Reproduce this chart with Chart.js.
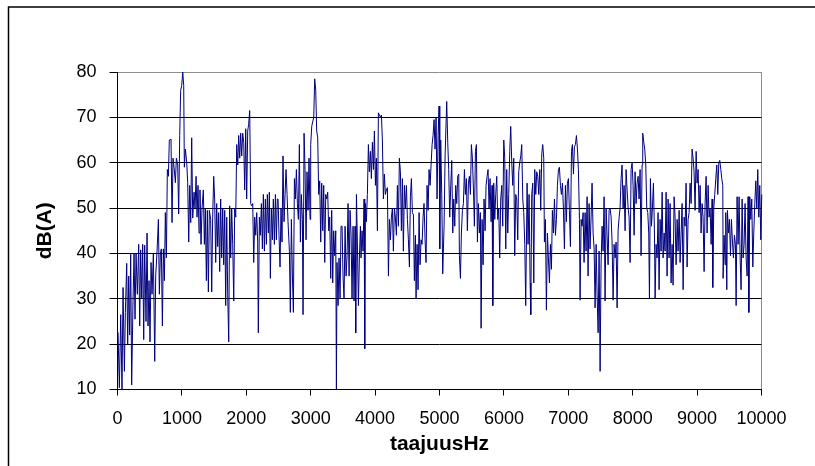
<!DOCTYPE html>
<html>
<head>
<meta charset="utf-8">
<title>taajuusHz</title>
<script src="https://cdn.jsdelivr.net/npm/chart.js@4.4.1/dist/chart.umd.min.js"></script>
<style>
    html,
    body {
        margin: 0;
        padding: 0;
        background: #ffffff;
    }

    #spectrumChart {
        display: block;
    }
</style>
</head>
<body>
<canvas id="spectrumChart" width="815" height="466"></canvas>
<script>
"use strict";

// frequency of each reading, Hz
const frequencyHz = [
    8, 29, 50, 70, 86, 107, 122, 143, 158, 174, 189, 205, 220, 241, 257, 272, 288, 308, 329, 345,
    360, 376, 391, 407, 422, 443, 459, 474, 490, 505, 521, 536, 557, 578, 593, 614, 635, 650, 666, 681,
    697, 712, 728, 743, 759, 774, 790, 805, 831, 847, 862, 878, 899, 914, 935, 950, 966, 981, 997, 1013,
    1028, 1038, 1054, 1075, 1090, 1106, 1121, 1137, 1152, 1168, 1189,
    1204, 1220, 1235, 1250, 1266, 1281, 1297, 1313, 1333, 1349, 1364, 1380, 1395, 1411, 1426, 1447, 1463, 1478, 1494, 1509,
    1525, 1540, 1556, 1571, 1587, 1602, 1618, 1634, 1649, 1665, 1680, 1696, 1711, 1727, 1742, 1758, 1773, 1789, 1805, 1820,
    1836, 1851, 1867, 1882, 1898, 1913, 1929, 1944, 1960, 1975, 1991, 2006, 2022, 2037, 2053, 2068, 2084, 2100, 2115, 2131,
    2146, 2162, 2177, 2187, 2203, 2218, 2234, 2250, 2265, 2281, 2296, 2312, 2327, 2343, 2358, 2374, 2389, 2405, 2420, 2436,
    2452, 2467, 2482,
    2493, 2508, 2524, 2539, 2555, 2570, 2586, 2602, 2617, 2633, 2648, 2669, 2684, 2700, 2716, 2731, 2747, 2762, 2778, 2793,
    2809, 2824, 2840, 2855, 2871, 2881, 2897, 2912, 2928, 2943, 2959, 2974, 2990, 3000, 3016, 3031, 3047, 3062, 3078, 3093,
    3109, 3124, 3140, 3156, 3171, 3187, 3202, 3218, 3233, 3249, 3264, 3280, 3295, 3311, 3326, 3342, 3357, 3373, 3389, 3399,
    3409, 3425, 3440, 3456, 3471, 3487, 3502, 3518, 3534, 3549, 3565, 3580, 3596, 3611, 3627, 3642, 3658, 3673, 3689, 3699,
    3710, 3725, 3741, 3756, 3772,
    3782, 3797, 3813, 3829, 3839, 3849, 3865, 3880, 3896, 3911, 3927, 3942, 3958, 3974, 3989, 4005, 4020, 4036, 4051, 4067,
    4082, 4098, 4113, 4129, 4144, 4160, 4175, 4191, 4207, 4222, 4238, 4253, 4269, 4284, 4300, 4315, 4331, 4346, 4362, 4377,
    4393, 4408, 4424, 4439, 4455, 4471, 4486, 4502, 4517, 4533, 4548, 4564, 4579, 4595, 4610, 4626, 4636, 4652, 4667, 4683,
    4698, 4714, 4729, 4745, 4760, 4776, 4791, 4807, 4823, 4838, 4854, 4869, 4885, 4900, 4916, 4931, 4947, 4962, 4978, 4993,
    5004, 5019, 5035, 5050,
    5071, 5087, 5112, 5128, 5143, 5159, 5175, 5190, 5206, 5221, 5237, 5252, 5268, 5283, 5299, 5309, 5325, 5340, 5356, 5371,
    5387, 5402, 5418, 5433, 5449, 5464, 5480, 5495, 5511, 5527, 5542, 5558, 5573, 5589, 5604, 5620, 5635, 5646, 5661, 5677,
    5692, 5708, 5723, 5739, 5754, 5770, 5785, 5801, 5816, 5827, 5842, 5858, 5873, 5889, 5904, 5920, 5935, 5951, 5967, 5982,
    5998, 6013, 6029, 6044, 6060, 6075, 6091, 6106, 6122, 6137, 6153, 6168, 6184, 6199, 6215, 6230, 6246, 6262, 6277, 6293,
    6308, 6324, 6339,
    6360, 6375, 6391, 6407, 6417, 6432, 6448, 6464, 6479, 6495, 6510, 6526, 6541, 6557, 6572, 6588, 6603, 6619, 6629, 6645,
    6660, 6676, 6691, 6707, 6722, 6738, 6753, 6769, 6785, 6800, 6816, 6831, 6847, 6862, 6878, 6893, 6909, 6924, 6940, 6955,
    6971, 6986, 7002, 7017, 7033, 7049, 7064, 7080, 7095, 7111, 7126, 7142, 7157, 7173, 7183, 7199, 7214, 7230, 7245, 7261,
    7276, 7292, 7307, 7323, 7338, 7354, 7369, 7385, 7401, 7416, 7432, 7447, 7463, 7478, 7494, 7509, 7525, 7540, 7556, 7571,
    7587, 7602, 7618, 7633,
    7649, 7665, 7680, 7696, 7711, 7727, 7742, 7758, 7773, 7789, 7804, 7820, 7835, 7851, 7866, 7882, 7897, 7913, 7929, 7944,
    7960, 7975, 7991, 8006, 8022, 8037, 8053, 8068, 8084, 8099, 8115, 8130, 8146, 8156, 8172, 8187, 8203, 8218, 8234, 8249,
    8260, 8275, 8291, 8306, 8322, 8338, 8348, 8363, 8379, 8394, 8410, 8425, 8441, 8457, 8472, 8488, 8503, 8519, 8534, 8550,
    8565, 8581, 8596, 8612, 8627, 8643, 8658, 8674, 8690, 8705, 8721, 8736, 8752, 8767, 8783, 8798, 8814, 8829, 8845, 8860,
    8876, 8891, 8907, 8922,
    8938, 8953, 8969, 8985, 9000, 9016, 9031, 9047, 9062, 9078, 9093, 9109, 9124, 9140, 9155, 9171, 9186, 9202, 9218, 9233,
    9243, 9259, 9274, 9290, 9306, 9321, 9337, 9352, 9368, 9383, 9399, 9404, 9419, 9435, 9445, 9461, 9471, 9487, 9502, 9518,
    9533, 9549, 9564, 9580, 9595, 9606, 9621, 9637, 9652, 9668, 9683, 9699, 9714, 9730, 9745, 9761, 9777, 9792, 9803, 9818,
    9834, 9849, 9865, 9880, 9896, 9911, 9927, 9942, 9958, 9973, 9989, 10004, 10020, 10035, 10046
];

// A-weighted level of each reading, dB(A)
const levelDb = [
    22.6, 10.4, 26.5, 10, 32.5, 14, 27, 37.8, 20, 35, 22, 39.8, 11, 29.7, 40, 25.5, 40, 31, 42, 24,
    40.8, 30, 42, 21, 41.8, 25, 44.5, 24, 34, 20.5, 38, 31, 40, 16.2, 35, 40.5, 47.5, 31, 40, 41,
    24, 41, 34, 49, 39, 58.5, 57, 65, 65.2, 46.8, 61, 59, 55.6, 61, 59.5, 48.7, 66, 76, 77, 80,
    77, 59, 63, 60, 55.6, 42.5, 55, 46.8, 65.5, 47.8, 53.5,
    50, 57, 48, 55, 44.5, 54, 42, 50, 54, 42, 50, 34, 49.5, 31.5, 49.5, 47.5, 31.5, 48, 57, 52,
    38, 51, 41.5, 49, 36, 52, 39, 50, 37.5, 49.5, 28.5, 48, 31, 20.5, 50.5, 39, 50, 42, 29.5, 50,
    48, 64, 59.5, 66, 61, 66.5, 61.5, 66.5, 64.5, 54, 67.5, 52, 67, 68.5, 71.5, 51, 50.5, 51, 38, 48,
    44, 49, 42.5, 22.5, 48, 44, 51, 41, 53, 40.5, 52, 42, 53, 44.5, 53.5, 34.5, 50, 43, 52, 42,
    53, 43, 52,
    52, 44, 37, 50, 42.5, 61.5, 47, 53, 58.5, 53, 47, 40.5, 27, 47.5, 35, 27, 56.5, 52, 58.5, 51,
    47.5, 64, 42.5, 53, 47.5, 26.5, 66.5, 58.5, 43, 58, 49.5, 61, 47.5, 64, 68, 69, 70, 78.5, 76, 67,
    65.5, 53, 56, 42.5, 55.5, 45, 55, 38, 53, 52, 53.5, 45, 48, 34.5, 49.5, 33.5, 45, 39.5, 45, 10,
    38, 28.5, 39, 30, 46, 46, 35, 30, 46, 35, 39.5, 51, 35, 49.5, 44, 30, 46, 29.5, 46, 22.5,
    53, 42.5, 28.5, 39, 46,
    39, 45, 40.5, 52, 19, 51, 47, 53, 64, 58, 62.5, 56.5, 64.5, 58.5, 67, 55, 61, 45, 71, 70.5,
    70, 70.5, 65, 52, 57.5, 53, 54, 54.5, 35, 47.5, 43, 48, 50, 40.5, 50, 48, 44, 55, 46, 61,
    58, 45, 56.5, 40.5, 55, 50, 55, 47.5, 43, 37, 52.5, 56.5, 49, 48.5, 34, 44, 30, 42, 32, 49,
    37.5, 43, 42, 48, 51, 43, 38, 55, 49.5, 58.5, 55, 59.5, 64, 66, 69.5, 63, 70, 52, 66, 72.5,
    41, 65, 53, 35.5,
    46, 61.5, 73.5, 64.5, 58.5, 48, 55, 60.5, 44.5, 52, 46, 55, 51, 57, 57.5, 39.5, 34.5, 44.5, 49.5, 51,
    58.5, 53, 56.5, 45, 55.5, 57, 53, 64, 61, 54, 46, 62.5, 64, 42.5, 51, 44.5, 49, 23.5, 47.5, 37.5,
    52, 45, 55, 57, 58.5, 50, 56.5, 47, 55, 28.5, 55.5, 47.5, 53, 57, 47.5, 50, 39, 52, 55, 46,
    65, 61, 41, 58.5, 44.5, 53, 62.5, 68, 60, 55, 61, 39.5, 53, 52, 43, 58, 60, 61.5, 64, 52,
    49, 42, 28.5,
    55.5, 42, 53, 33.5, 26.5, 53, 55.5, 33.5, 58.5, 53, 58, 57, 53, 58.5, 49.5, 62, 64, 61, 42.5, 47.5,
    27.5, 44.5, 39, 33.5, 42, 36.5, 49.5, 44.5, 52, 44, 47.5, 55, 58.5, 59, 55, 53, 55.5, 50, 41, 55,
    47, 55.5, 56.5, 49.5, 41.5, 62.5, 64, 57.5, 63.5, 64, 66, 63, 58.5, 47.5, 29.7, 47.5, 46, 49, 38, 49,
    40.5, 52.5, 35, 51, 41, 48, 55.5, 44.5, 41, 28, 42, 31, 22.5, 40.5, 14, 38, 46, 40.5, 52.5, 29.5,
    50, 44, 37.5, 49.5,
    50, 48, 42.5, 29.7, 42, 39, 42.5, 28, 45, 48, 50, 56.5, 59.5, 50, 55, 45, 58.5, 54, 50, 48,
    38, 58.5, 60, 55, 44, 58, 51, 55.5, 57, 52, 58.5, 39.5, 59.5, 66.5, 64.5, 63, 59.5, 50, 49, 44.5,
    30, 56.5, 46, 50, 55.5, 44.5, 30, 42, 39, 49, 32, 47.5, 40.5, 53.5, 39, 44.5, 40.5, 53.5, 35, 52,
    39, 51, 33.5, 42, 33, 52.5, 48, 37.5, 47.5, 40.5, 49.5, 38, 44.5, 51, 32, 48, 46, 55.5, 37, 47.5,
    49, 55.5, 51, 63,
    61, 58, 49.5, 62.5, 55.5, 58.5, 49, 55, 44.5, 51, 48, 36, 51, 57, 44.5, 55, 48, 50, 42, 52,
    32.5, 50, 53, 56.5, 59.5, 53, 60, 60.5, 58.5, 56.5, 55, 34.5, 44, 37.5, 49, 32, 49.5, 44.5, 47.5, 39.5,
    47.5, 42.5, 39, 44, 42, 28.5, 52.5, 42, 52.5, 39, 32, 52, 39, 42, 51, 39, 35, 52.5, 27, 52.5,
    47.5, 52, 37, 44.5, 51, 56, 50, 58.5, 48, 55, 43, 53, 52.5, 35, 63
];

const frequencyTicks = [0, 1000, 2000, 3000, 4000, 5000, 6000, 7000, 8000, 9000, 10000];

const levelTicks = [10, 20, 30, 40, 50, 60, 70, 80];

const FONT_FAMILY = "'Liberation Sans', Arial, sans-serif";

const framePlugin = {

    id: "frame",

    beforeDraw(chart) {

        const ctx = chart.ctx;

        ctx.save();
        ctx.fillStyle = "#ffffff";
        ctx.fillRect(0, 0, chart.width, chart.height);
        ctx.restore();
    },

    afterDraw(chart) {

        const ctx = chart.ctx;

        ctx.save();
        ctx.strokeStyle = "#000000";
        ctx.lineWidth = 1.5;
        ctx.strokeRect(8.5, 7, 830, 480);
        ctx.restore();
    }
};

function buildChart() {

    const canvas = document.getElementById("spectrumChart");

    if (!canvas || typeof Chart === "undefined") {

        console.error("Chart.js not loaded.");

        return;
    }

    const points = frequencyHz.map(
        (hz, index) => ({ x: hz, y: levelDb[index] })
    );

    new Chart(canvas, {

        type: "line",

        data: {
            datasets: [
                {
                    data: points,
                    borderColor: "#000080",
                    borderWidth: 1,
                    pointRadius: 0,
                    tension: 0,
                    fill: false,
                    clip: false
                }
            ]
        },

        options: {

            responsive: false,
            animation: false,
            events: [],

            layout: {
                padding: { top: 72, right: 53.5, bottom: 0, left: 0 }
            },

            plugins: {
                legend: { display: false },
                tooltip: { enabled: false }
            },

            scales: {

                x: {
                    type: "linear",
                    min: 0,
                    max: 10000,
                    afterBuildTicks(scale) {
                        scale.ticks = frequencyTicks.map(value => ({ value }));
                    },
                    afterFit(scale) {
                        scale.height = 76.5;
                    },
                    ticks: {
                        color: "#000000",
                        padding: 13,
                        maxRotation: 0,
                        autoSkip: false,
                        font: { family: FONT_FAMILY, size: 18 },
                        callback: value => String(value)
                    },
                    grid: {
                        drawOnChartArea: true,
                        color: ctx => (ctx.tick && ctx.tick.value === 10000)
                            ? "#8c8c8c"
                            : "rgba(0,0,0,0)",
                        tickColor: "#000000",
                        tickLength: 6
                    },
                    border: { color: "#000000", width: 1 },
                    title: {
                        display: true,
                        text: "taajuusHz",
                        color: "#000000",
                        font: { family: FONT_FAMILY, size: 21, weight: "bold" },
                        padding: { top: 0, bottom: 9.4 }
                    }
                },

                y: {
                    min: 10,
                    max: 80,
                    afterBuildTicks(scale) {
                        scale.ticks = levelTicks.map(value => ({ value }));
                    },
                    afterFit(scale) {
                        scale.width = 117.5;
                    },
                    ticks: {
                        color: "#000000",
                        padding: 13,
                        font: { family: FONT_FAMILY, size: 18 },
                        callback: value => String(value)
                    },
                    grid: {
                        color: ctx => (ctx.tick && ctx.tick.value === 80)
                            ? "#8c8c8c"
                            : "#000000",
                        tickColor: "#000000",
                        tickLength: 8
                    },
                    border: { color: "#000000", width: 1 },
                    title: {
                        display: true,
                        text: "dB(A)",
                        color: "#000000",
                        font: { family: FONT_FAMILY, size: 21, weight: "bold" },
                        padding: { top: 32.4, bottom: 0 }
                    }
                }
            }
        },

        plugins: [framePlugin]
    });
}

document.addEventListener("DOMContentLoaded", () => {

    try {

        buildChart();

    } catch (error) {

        console.error("Chart initialization failed", error);
    }
});
</script>
</body>
</html>
